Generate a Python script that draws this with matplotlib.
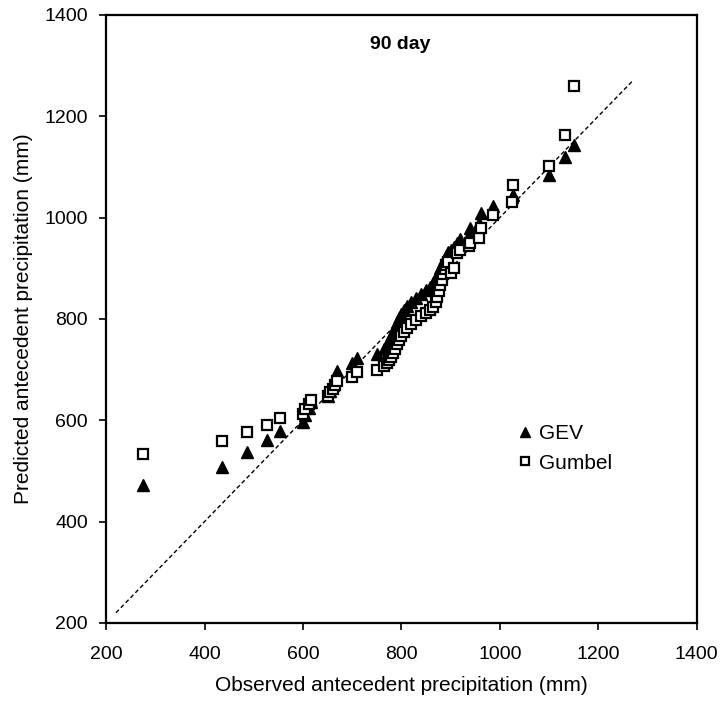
import matplotlib
matplotlib.use("Agg")
import matplotlib.pyplot as plt
import numpy as np

plt.rcParams['font.family'] = ['Liberation Sans', 'DejaVu Sans']

# observed antecedent precipitation (mm), shared by both fits
observed = [275, 435, 487, 527, 553, 600, 605, 612, 617, 650, 655, 660, 666, 670,
            700, 710, 750, 765, 770, 775, 778, 782, 786, 790, 795, 800, 805, 812,
            820, 830, 840, 850, 858, 865, 870, 873, 876, 879, 882, 885, 888, 891,
            895, 900, 906, 913, 918, 937, 939, 957, 961, 986, 1025, 1027, 1100,
            1133, 1150]
# predicted values (mm)
gev = [472, 508, 537, 560, 579, 597, 610, 624, 636, 648, 658, 670, 684, 698,
       712, 722, 730, 740, 750, 758, 766, 775, 784, 793, 802, 810, 818, 826,
       834, 842, 850, 856, 862, 870, 878, 886, 893, 900, 907, 913, 919, 925,
       932, 935, 942, 950, 958, 966, 979, 990, 1009, 1022, 1040, 1045, 1083,
       1120, 1143]
gumbel = [533, 559, 576, 591, 604, 612, 622, 632, 640, 648, 655, 662, 670, 678,
          686, 695, 699, 706, 712, 718, 725, 733, 741, 750, 758, 766, 774, 782,
          790, 798, 805, 812, 818, 824, 834, 844, 855, 866, 877, 888, 898, 906,
          913, 890, 900, 930, 935, 943, 950, 959, 979, 1005, 1031, 1064, 1102,
          1163, 1260]
line_range = [220, 1270]

fig = plt.figure(figsize=(7.22, 7.07), dpi=100)
ax = fig.add_axes([0.147, 0.119, 0.818, 0.860])

# 1:1 line
ax.plot(line_range, line_range, color='black', lw=1, ls=(0, (3, 2)))
ax.plot(observed, gev, '^', color='black', markersize=8, ls='none', label='GEV')
ax.plot(observed, gumbel, 's', markerfacecolor='white', markeredgecolor='black',
        markeredgewidth=1.6, markersize=7, ls='none', label='Gumbel')

ax.set_xlim(200, 1400)
ax.set_ylim(200, 1400)
ax.set_xticks(np.arange(200, 1401, 200))
ax.set_yticks(np.arange(200, 1401, 200))
ax.tick_params(direction='out', length=5, width=1.2, labelsize=14)
ax.tick_params(axis='x', pad=12)
ax.tick_params(axis='y', pad=8)
for s in ax.spines.values():
    s.set_linewidth(1.6)

ax.set_xlabel('Observed antecedent precipitation (mm)', fontsize=15, labelpad=9)
ax.set_ylabel('Predicted antecedent precipitation (mm)', fontsize=15, labelpad=8)
ax.text(797, 1341, '90 day', fontsize=14, fontweight='bold', ha='center', va='center')

ax.legend(loc='upper left', bbox_to_anchor=(0.678, 0.344), frameon=False,
          fontsize=15, handlelength=0.8, handletextpad=0.25, borderpad=0,
          labelspacing=0.5, markerscale=0.85)

fig.savefig('out.png', dpi=100)
